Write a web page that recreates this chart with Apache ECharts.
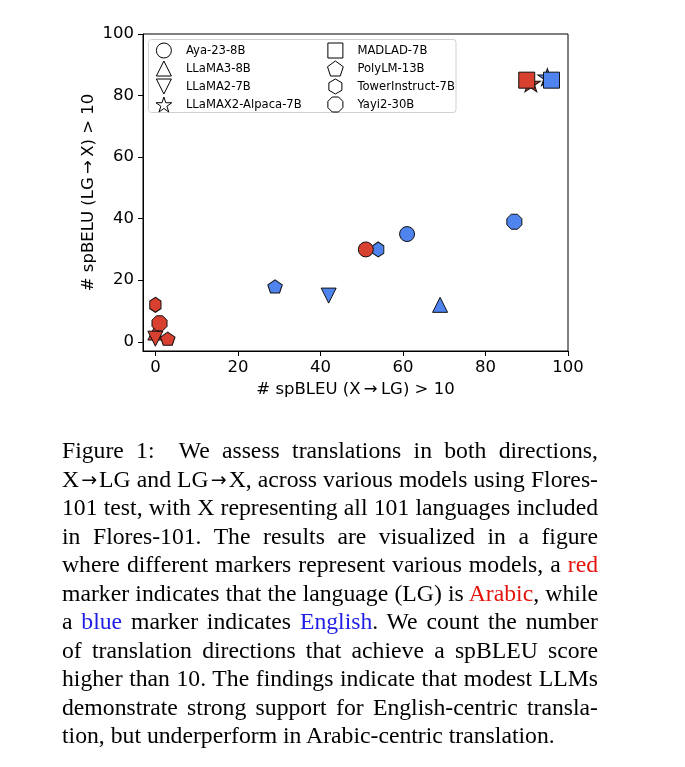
<!DOCTYPE html>
<html>
<head>
<meta charset="utf-8">
<script src="https://cdn.jsdelivr.net/npm/echarts@6/dist/echarts.min.js"></script>
<style>
  html, body { margin: 0; padding: 0; background: #fff; }
  #wrap { position: relative; width: 685px; height: 767px; overflow: hidden; }
  #chart { position: absolute; left: 0; top: 0; width: 685px; height: 767px; }
  #caption { position: absolute; left: 62px; top: 436px; width: 536px;
    font-family: "Liberation Serif", "DejaVu Serif", serif; font-size: 23.7px; line-height: 28.55px; color: #000; }
  #caption div { text-align: justify; text-align-last: justify; white-space: nowrap; }
  #caption div.last { text-align: left; text-align-last: left; }
  .a { display: inline-block; width: 20px; text-align: center; text-align-last: center; font-family: "DejaVu Sans"; font-size: 19px; line-height: 1; vertical-align: 1px; }
  .r { color: #e3120b; }
  .b { color: #1e1ee6; }
</style>
</head>
<body>
<div id="wrap">
  <div id="chart"></div>
  <div id="caption"></div>
</div>
<script>
// ---------- data ----------
const models = ['Aya-23-8B', 'LLaMA3-8B', 'LLaMA2-7B', 'LLaMAX2-Alpaca-7B',
                'MADLAD-7B', 'PolyLM-13B', 'TowerInstruct-7B', 'Yayi2-30B'];
// Arabic-centric (red)
const arabicX = [51, 0, 0, 91, 90, 3, 0, 1];
const arabicY = [30, 3, 1, 84, 85, 1, 12, 6];
// English-centric (blue)
const englishX = [61, 69, 42, 95, 96, 29, 54, 87];
const englishY = [35, 12, 15, 86, 85, 18, 30, 39];
const xTicks = [0, 20, 40, 60, 80, 100];
const yTicks = [0, 20, 40, 60, 80, 100];

const captionLines = [
  'Figure 1:&nbsp; We assess translations in both directions,',
  'X<span class="a">→</span>LG and LG<span class="a">→</span>X, across various models using Flores-',
  '101 test, with X representing all 101 languages included',
  'in Flores-101. The results are visualized in a figure',
  'where different markers represent various models, a <span class="r">red</span>',
  'marker indicates that the language (LG) is <span class="r">Arabic</span>, while',
  'a <span class="b">blue</span> marker indicates <span class="b">English</span>. We count the number',
  'of translation directions that achieve a spBLEU score',
  'higher than 10. The findings indicate that modest LLMs',
  'demonstrate strong support for English-centric transla-',
  'tion, but underperform in Arabic-centric translation.'
];

// ---------- styles ----------
const RED = '#d8402f';
const BLUE = '#4f83ee';
const symbols = {
  'Aya-23-8B': ['circle', 15],
  'LLaMA3-8B': ['path://M1,0L2,2L0,2Z', [15, 15]],
  'LLaMA2-7B': ['path://M0,0L2,0L1,2Z', [15, 15]],
  'LLaMAX2-Alpaca-7B': ['path://M0,-1L0.2245,-0.309L0.951,-0.309L0.363,0.118L0.588,0.809L0,0.382L-0.588,0.809L-0.363,0.118L-0.951,-0.309L-0.2245,-0.309Z', [19, 18]],
  'MADLAD-7B': ['path://M0,0L1,0L1,1L0,1Z', [16, 16]],
  'PolyLM-13B': ['path://M0,-1L0.951,-0.309L0.588,0.809L-0.588,0.809L-0.951,-0.309Z', [14.5, 13.8]],
  'TowerInstruct-7B': ['path://M0,-1L0.866,-0.5L0.866,0.5L0,1L-0.866,0.5L-0.866,-0.5Z', [13, 15]],
  'Yayi2-30B': ['path://M0.383,-0.924L0.924,-0.383L0.924,0.383L0.383,0.924L-0.383,0.924L-0.924,0.383L-0.924,-0.383L-0.383,-0.924Z', [15, 15]]
};

document.getElementById('caption').innerHTML =
  captionLines.map((l, i) => '<div' + (i === captionLines.length - 1 ? ' class="last"' : '') + '>' + l + '</div>').join('');

const series = [];
function addSet(xs, ys, color) {
  models.forEach((m, i) => {
    series.push({
      type: 'scatter',
      name: m,
      symbol: symbols[m][0],
      symbolSize: symbols[m][1],
      symbolKeepAspect: true,
      itemStyle: { color: color, borderColor: '#111', borderWidth: 1, opacity: 1 },
      emphasis: { disabled: true },
      data: [[xs[i], ys[i]]]
    });
  });
}
addSet(englishX, englishY, BLUE);
addSet(arabicX, arabicY, RED);

const axisFont = { fontFamily: 'DejaVu Sans', fontSize: 16.5, color: '#000' };
const legendCommon = {
  orient: 'vertical',
  itemWidth: 34,
  itemHeight: 15,
  itemGap: 2,
  padding: 0,
  selectedMode: false,
  symbolKeepAspect: true,
  textStyle: { fontFamily: 'DejaVu Sans', fontSize: 11.6, color: '#000' },
  itemStyle: { color: '#fff', borderColor: '#000', borderWidth: 1 }
};

const chart = echarts.init(document.getElementById('chart'), null, { renderer: 'canvas' });
chart.setOption({
  animation: false,
  backgroundColor: '#fff',
  grid: { left: 143, right: 117, top: 34, bottom: 416, show: true, borderColor: '#000', borderWidth: 1, backgroundColor: 'transparent' },
  xAxis: {
    type: 'value', min: -3, max: 100,
    name: '# spBLEU (X\u2009\u2192\u2009LG) > 10', nameLocation: 'middle', nameGap: 30, nameMoveOverlap: false,
    nameTextStyle: axisFont,
    axisLine: { show: true, onZero: false, lineStyle: { color: '#000', width: 1 } },
    axisTick: { show: true, inside: false, length: 5, customValues: xTicks, lineStyle: { color: '#000' } },
    axisLabel: { customValues: xTicks, margin: 8, ...axisFont },
    splitLine: { show: false }
  },
  yAxis: {
    type: 'value', min: -3, max: 100,
    name: '# spBELU (LG\u2009\u2192\u2009X) > 10', nameLocation: 'middle', nameGap: 46, nameRotate: 90, nameMoveOverlap: false,
    nameTextStyle: axisFont,
    axisLine: { show: true, onZero: false, lineStyle: { color: '#000', width: 1 } },
    axisTick: { show: true, inside: false, length: 5, customValues: yTicks, lineStyle: { color: '#000' } },
    axisLabel: { customValues: yTicks, margin: 9, ...axisFont },
    splitLine: { show: false }
  },
  graphic: [{
    type: 'rect', z: 90,
    shape: { x: 148.5, y: 39.5, width: 307.5, height: 73, r: 3 },
    style: { fill: 'rgba(255,255,255,0.85)', stroke: '#d0d0d0', lineWidth: 1 }
  }],
  legend: [
    Object.assign({}, legendCommon, { left: 155.5, top: 42.5, data: models.slice(0, 4), z: 100 }),
    Object.assign({}, legendCommon, { left: 327, top: 42.5, data: models.slice(4), z: 100 })
  ],
  series: series
});
</script>
</body>
</html>
